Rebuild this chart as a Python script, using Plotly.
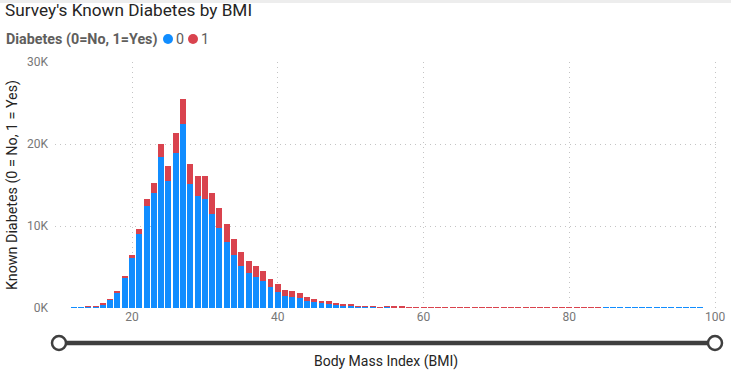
import plotly.graph_objects as go

# ---- data ----
bmi = list(range(12, 99))
no_diabetes = [30, 50, 130, 230, 480, 1000, 1950, 3700, 6140, 9020,
               12440, 14070, 18370, 15530, 18940, 22400, 15120, 13700, 13330, 11420,
               9800, 8050, 6500, 5160, 4310, 3780, 3290, 2600, 1990, 1500,
               1380, 1260, 890, 690, 570, 580, 400, 290, 290, 160,
               160, 160, 70, 140, 90, 80, 70, 70, 60, 55,
               45, 40, 35, 30, 30, 25, 20, 20, 15, 15,
               12, 10, 10, 8, 8, 6, 5, 5, 4, 4,
               3, 3, 3, 2, 2, 2, 2, 2, 1, 1,
               1, 1, 1, 1, 1, 1, 1]
yes_diabetes = [0, 0, 5, 5, 20, 90, 120, 160, 320, 570,
                890, 1210, 1630, 1750, 2400, 3090, 2400, 2450, 2770, 2560,
                2350, 2230, 1910, 1670, 1460, 1300, 1180, 980, 940, 700,
                690, 570, 450, 370, 280, 230, 170, 160, 160, 80,
                80, 80, 50, 80, 50, 45, 40, 40, 30, 30,
                25, 20, 20, 15, 15, 12, 10, 10, 8, 8,
                6, 5, 5, 4, 4, 3, 3, 2, 2, 2,
                2, 1, 1, 1, 1, 1, 1, 1, 0, 0,
                0, 0, 0, 0, 0, 0, 0]
series_names = ["0", "1"]
series_colors = ["#118DFF", "#D9434E"]
y_tick_vals = [0, 10000, 20000, 30000]
y_tick_text = ["0K", "10K", "20K", "30K"]
x_tick_vals = [20, 40, 60, 80, 100]

FONT = "Segoe UI, Roboto, sans-serif"
GRID = "#C4C4C4"
L, R, T, B, W, H = 55, 14, 62, 62, 731, 370
PW, PH = W - L - R, H - T - B


def px_x(p):
    return (p - L) / PW


def px_y(p):
    return (H - B - p) / PH


fig = go.Figure()
for name, vals, col in zip(series_names, [no_diabetes, yes_diabetes], series_colors):
    fig.add_trace(go.Bar(x=bmi, y=vals, name=name, marker=dict(color=col, line=dict(width=0)),
                         showlegend=False))

annotations = [dict(text="<b>Diabetes (0=No, 1=Yes)</b>", xref="paper", yref="paper",
                    x=px_x(4), y=px_y(39), xanchor="left", yanchor="middle", showarrow=False,
                    font=dict(size=14.3, color="#605E5C", family=FONT))]
legend_x = [168, 193]
for name, col, lx in zip(series_names, series_colors, legend_x):
    fig.add_shape(type="circle", xref="paper", yref="paper", xsizemode="pixel", ysizemode="pixel",
                  xanchor=px_x(lx), yanchor=px_y(39), x0=-5, x1=5, y0=-5, y1=5,
                  fillcolor=col, line=dict(width=0))
    annotations.append(dict(text=name, xref="paper", yref="paper", x=px_x(lx + 6), y=px_y(39),
                            xanchor="left", yanchor="middle", showarrow=False,
                            font=dict(size=14.3, color="#605E5C", family=FONT)))

fig.update_layout(
    width=W, height=H,
    margin=dict(l=L, r=R, t=T, b=B),
    paper_bgcolor="white", plot_bgcolor="white",
    barmode="stack", bargap=0.18,
    font=dict(family=FONT, color="#605E5C"),
    title=dict(text="Survey's Known Diabetes by BMI", x=0.007, xanchor="left",
               y=0.972, yanchor="middle", font=dict(size=17.2, color="#252423", family=FONT)),
    xaxis=dict(range=[9.43, 100.27], tickvals=x_tick_vals, showgrid=True, gridcolor=GRID,
               griddash="1px,4px", gridwidth=1, zeroline=False, showline=False, ticks="",
               tickfont=dict(size=12, color="#777777"),
               title=dict(text="Body Mass Index (BMI)", font=dict(size=14, color="#252423"),
                          standoff=34),
               automargin=False),
    yaxis=dict(range=[0, 30000], tickvals=y_tick_vals, ticktext=y_tick_text, showgrid=True,
               gridcolor=GRID, griddash="1px,4px", gridwidth=1, zeroline=False, ticks="",
               tickfont=dict(size=12, color="#777777"), ticklabelstandoff=6,
               title=dict(text="Known Diabetes (0 = No, 1 = Yes)",
                          font=dict(size=14.3, color="#252423"), standoff=5),
               automargin=False),
    annotations=annotations,
)

# faint top shadow
fig.add_shape(type="rect", xref="paper", yref="paper", ysizemode="pixel", yanchor=1,
              x0=px_x(0), x1=px_x(W), y0=T - 3, y1=T, fillcolor="#EDEDED", line=dict(width=0),
              layer="below")

# range slider decoration (Power BI zoom slider)
sy = px_y(343)
fig.add_shape(type="line", xref="paper", yref="paper", x0=px_x(59), x1=px_x(715), y0=sy, y1=sy,
              line=dict(color="#3F3F3F", width=4.5))
for cx in [px_x(59), px_x(715)]:
    fig.add_shape(type="circle", xref="paper", yref="paper", xsizemode="pixel", ysizemode="pixel",
                  xanchor=cx, yanchor=sy, x0=-7, x1=7, y0=-7, y1=7,
                  fillcolor="white", line=dict(color="#3F3F3F", width=2.5))

fig.write_html("out.html", config={"displayModeBar": False},
               post_script="document.body.style.margin='0';document.body.style.overflow='hidden';")
